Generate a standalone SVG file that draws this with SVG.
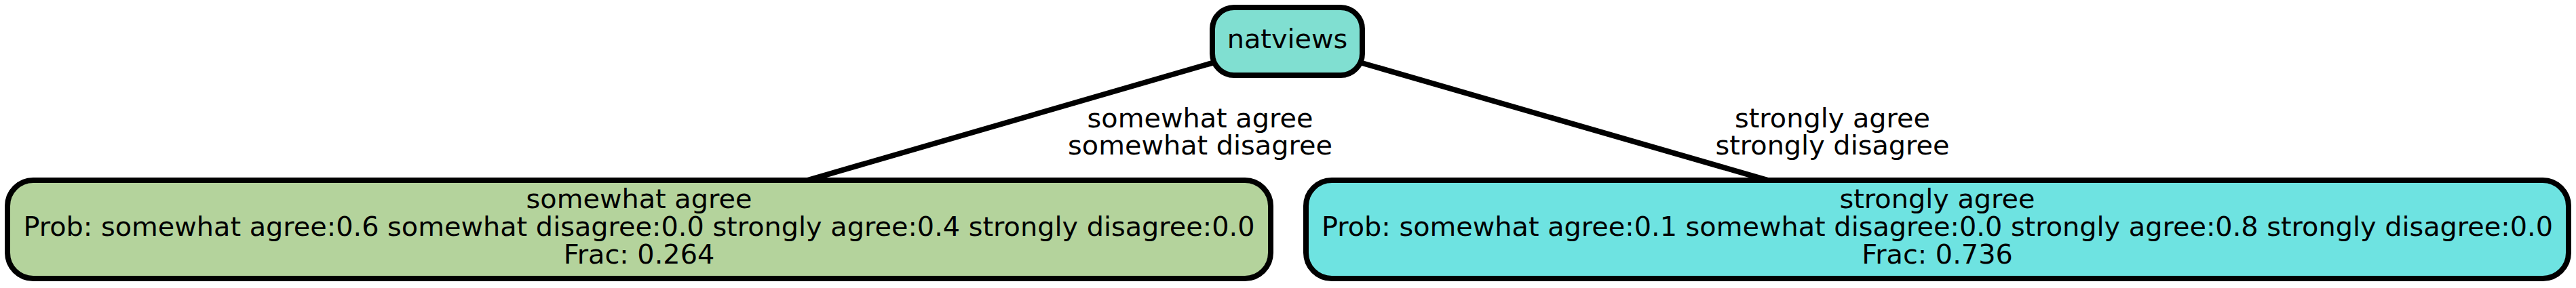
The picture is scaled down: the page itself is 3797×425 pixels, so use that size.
<svg xmlns="http://www.w3.org/2000/svg" width="3797" height="425" viewBox="0 0 3797 425">
<style>
text{font-family:"DejaVu Sans",sans-serif;font-size:39.8px;fill:#000;text-anchor:middle}
.node rect{stroke:#000;stroke-width:8}
.edge line{stroke:#000;stroke-width:8}
</style>
<rect width="3797" height="425" fill="#fff"/>
<g id="edges" class="edge">
<line x1="1897" y1="61" x2="942" y2="338"/>
<line x1="1897" y1="61" x2="2855" y2="338"/>
<text x="1769" y="188">somewhat agree</text>
<text x="1769" y="228">somewhat disagree</text>
<text x="2701" y="188">strongly agree</text>
<text x="2701" y="228">strongly disagree</text>
</g>
<g id="natviews" class="node">
<rect x="1787" y="11" width="221" height="100" rx="32" fill="#80dfd1"/>
<text x="1897.5" y="71">natviews</text>
</g>
<g id="somewhat_agree" class="node">
<rect x="11" y="266" width="1862" height="145" rx="38" fill="#b4d39c"/>
<text x="942" y="307">somewhat agree</text>
<text x="942" y="348">Prob: somewhat agree:0.6 somewhat disagree:0.0 strongly agree:0.4 strongly disagree:0.0</text>
<text x="942" y="389">Frac: 0.264</text>
</g>
<g id="strongly_agree" class="node">
<rect x="1925" y="266" width="1861" height="145" rx="38" fill="#6ee3e1"/>
<text x="2855.5" y="307">strongly agree</text>
<text x="2855.5" y="348">Prob: somewhat agree:0.1 somewhat disagree:0.0 strongly agree:0.8 strongly disagree:0.0</text>
<text x="2855.5" y="389">Frac: 0.736</text>
</g>
</svg>
